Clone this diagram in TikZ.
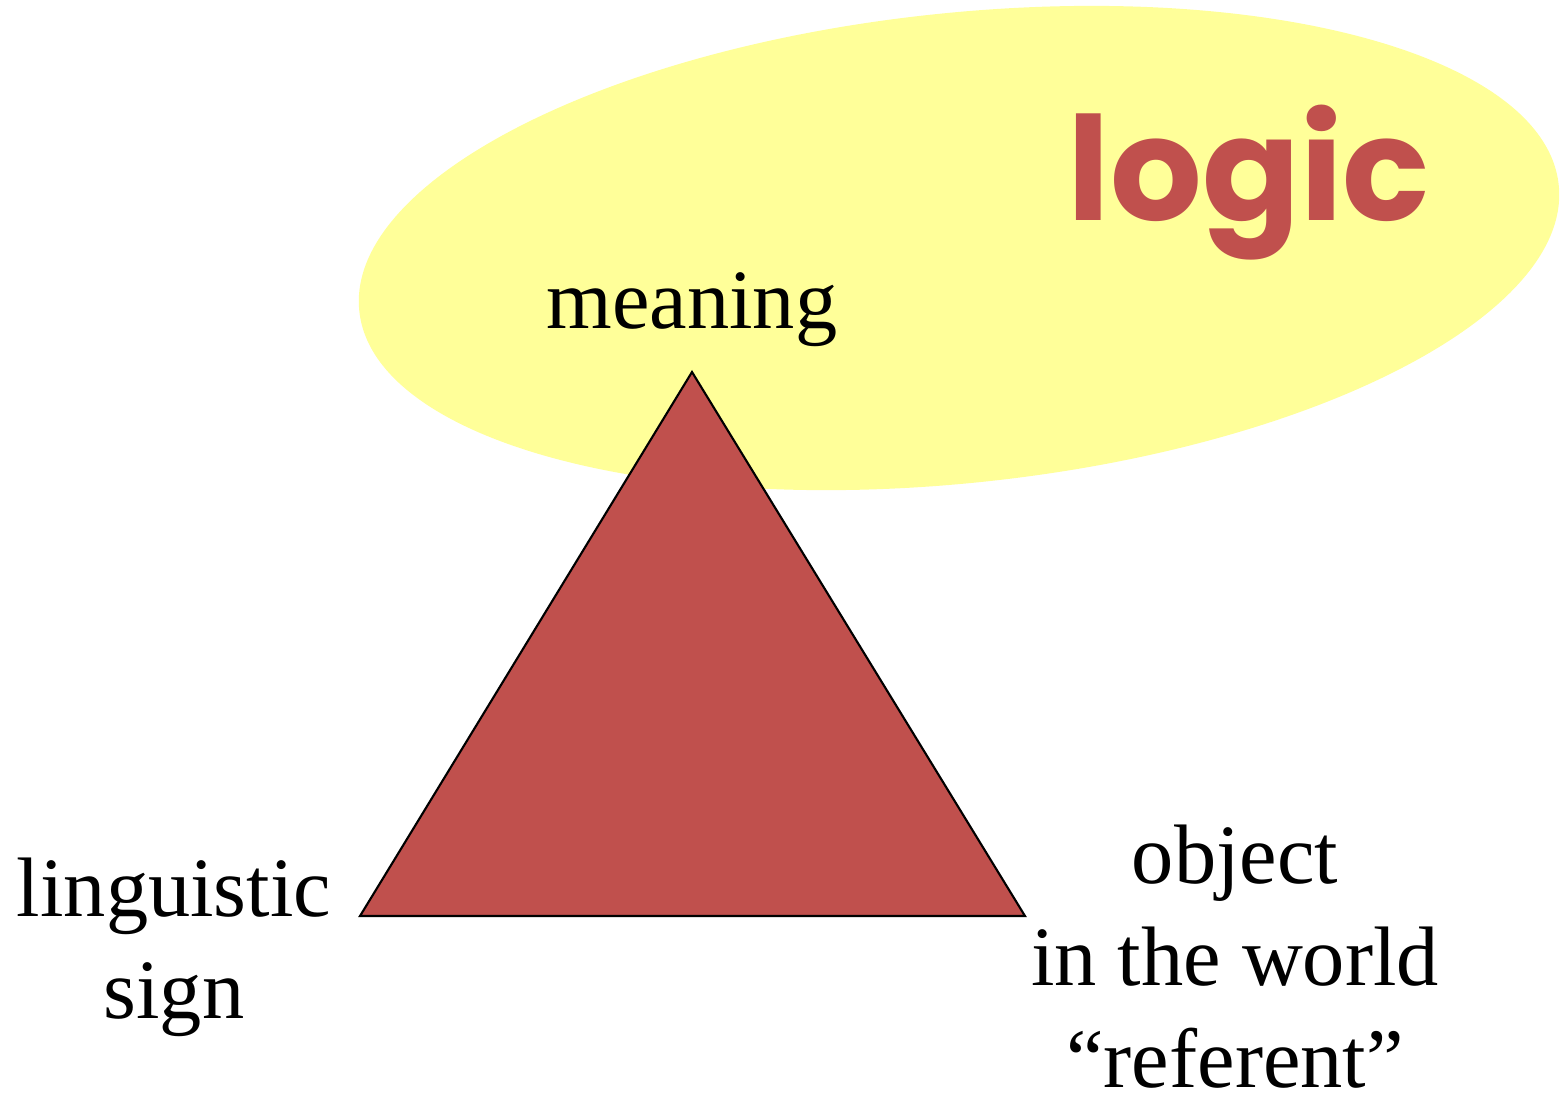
\documentclass[tikz,border=0pt]{standalone}
\usepackage{fontspec}
\setmainfont{Liberation Serif}
\newfontfamily\logicfont{Poppins}
\usepackage{xcolor}
\usepackage{tikz}
\usetikzlibrary{positioning,calc}
\definecolor{brick}{HTML}{C0504D}
\definecolor{paleyellow}{HTML}{FFFF99}
\tikzset{
  word/.style={
    inner sep=0pt,align=center,
    font=\fontsize{24}{29}\selectfont
  },
  bigword/.style={
    inner sep=0pt,text=brick,
    font=\logicfont\bfseries\fontsize{41}{48}\selectfont
  },
  trianglefill/.style={fill=brick,draw=black,line width=.6pt,line join=miter}
}
\begin{document}
\begin{tikzpicture}[x=0.01cm,y=-0.01cm]
\useasboundingbox (0,0) rectangle (1564,1099);
% ellipse behind everything
\fill[paleyellow,rotate around={6:(959,248)}] (959,248) ellipse [x radius=603,y radius=235];
\node[bigword,anchor=base] (logic) at (1249,220) {logic};

% the triangle
\coordinate (apex) at (692,372);
\coordinate (left) at (360,916);
\coordinate (right) at (1025,916);
\draw[trianglefill] (apex)--(left)--(right)--cycle;

% labels (base = last line)
\node[word,anchor=base] (meaning) at (692,328) {meaning};
\node[word,anchor=base] (sign) at (174,1018) {linguistic\\sign};
\node[word,anchor=base] (object) at (1235,1087) {object\\in the world\\``referent''};
\end{tikzpicture}
\end{document}
